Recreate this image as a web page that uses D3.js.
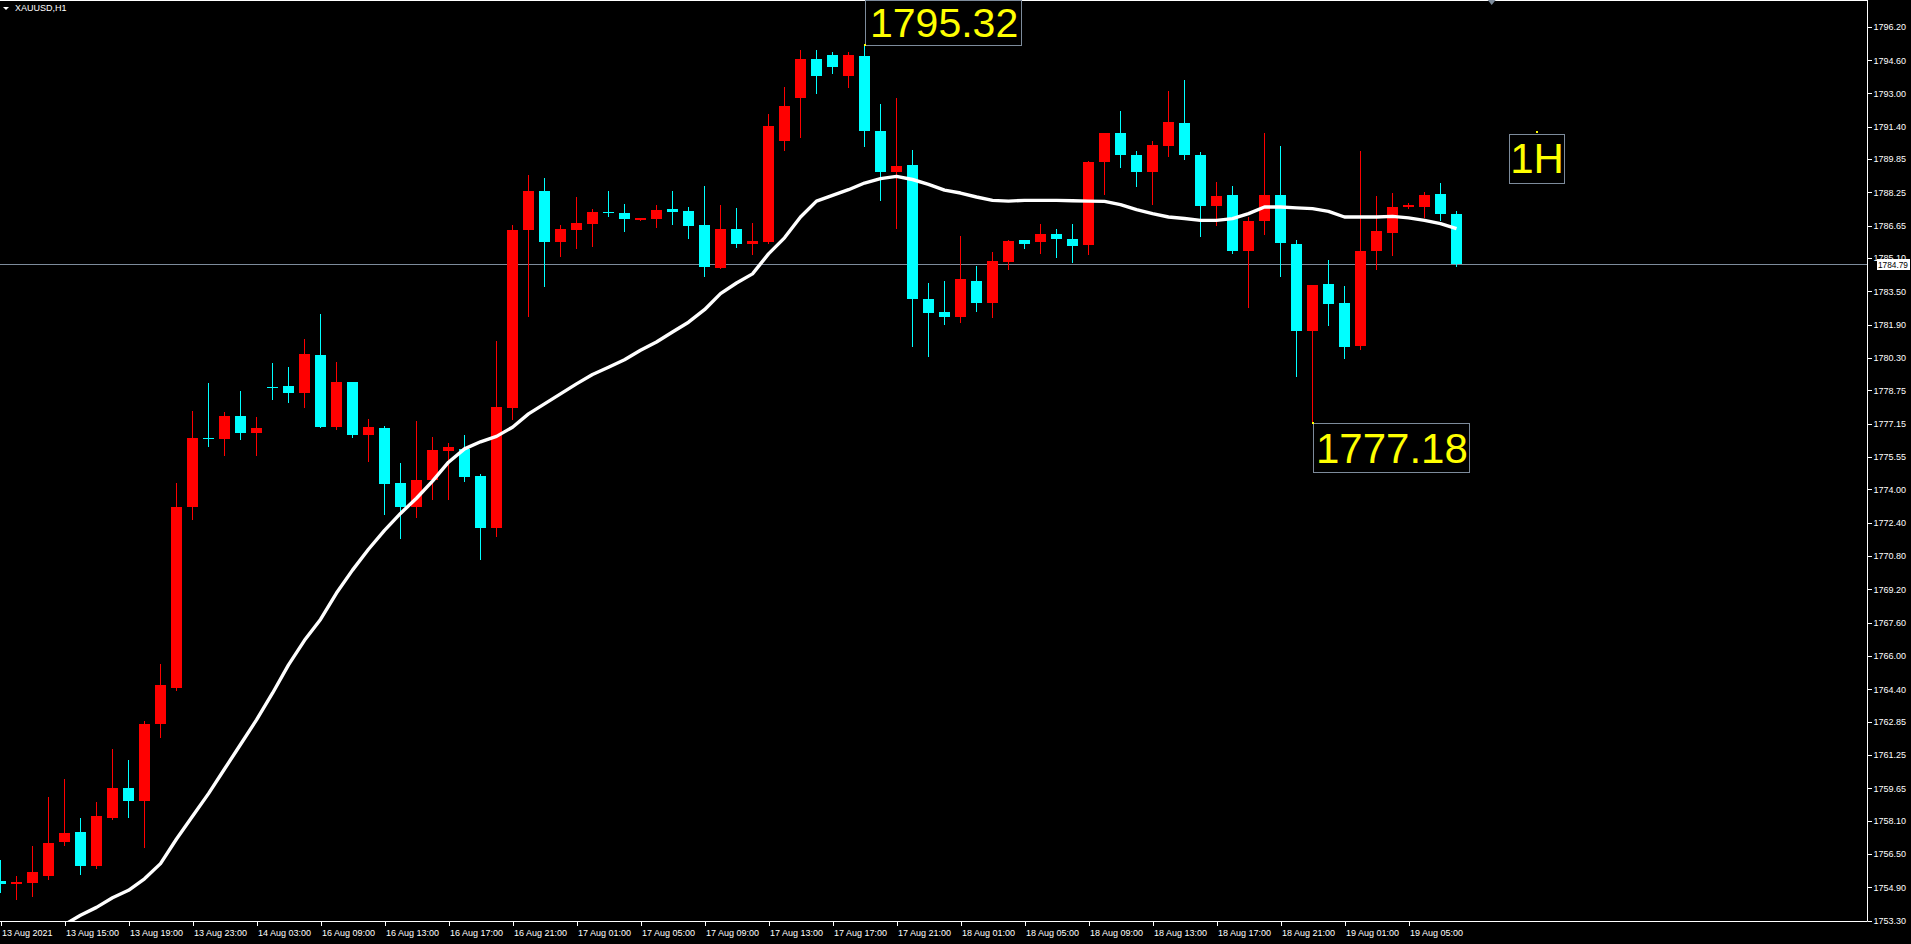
<!DOCTYPE html>
<html><head><meta charset="utf-8">
<script src="https://cdn.jsdelivr.net/npm/d3@7/dist/d3.min.js"></script>
<style>html,body{margin:0;padding:0;background:#000;overflow:hidden}svg{display:block}</style>
</head><body>
<svg id="chart" width="1911" height="944"></svg>
<script>
// ---------------- DATA ----------------
const symbolTitle = "XAUUSD,H1";
// hourly bars, 13 Aug 11:00 -> 19 Aug 08:00
const open  = [1755.19,1755.04,1755.10,1755.46,1757.06,1757.53,1755.90,1758.24,1759.64,1759.06,
               1762.72,1764.46,1773.15,1776.48,1776.39,1777.50,1776.70,1778.92,1778.94,1778.61,
               1780.44,1776.99,1779.14,1776.61,1776.92,1774.28,1773.15,1774.44,1775.83,1775.94,
               1774.62,1772.13,1777.90,1786.43,1788.30,1785.87,1786.43,1786.71,1787.29,1787.24,
               1786.92,1786.95,1787.43,1787.34,1786.67,1784.62,1786.47,1785.77,1785.87,1790.74,
               1792.79,1794.66,1794.83,1793.84,1794.78,1791.20,1789.23,1789.55,1783.11,1782.49,
               1782.27,1784.02,1782.94,1784.91,1785.96,1785.87,1786.23,1786.00,1785.72,1789.69,
               1791.08,1790.07,1789.23,1790.47,1791.56,1790.07,1787.59,1788.11,1785.43,1786.86,
               1788.11,1785.77,1781.59,1783.83,1782.94,1780.87,1785.43,1786.30,1787.55,1787.55,
               1788.15,1787.19];
const high  = [1756.20,1755.42,1756.88,1759.21,1760.11,1758.21,1758.97,1761.51,1760.99,1762.88,
               1765.59,1774.28,1777.74,1779.08,1777.70,1778.74,1777.45,1780.05,1779.85,1781.20,
               1782.40,1780.12,1779.14,1777.39,1777.06,1775.28,1777.26,1776.52,1776.21,1776.59,
               1774.71,1781.10,1786.67,1789.07,1788.92,1786.67,1788.01,1787.43,1788.30,1787.67,
               1787.00,1787.63,1788.30,1787.53,1788.54,1787.63,1787.48,1786.76,1792.00,1793.30,
               1795.10,1795.10,1795.00,1795.00,1795.32,1792.50,1792.80,1790.31,1783.88,1783.98,
               1786.14,1784.70,1785.37,1785.96,1785.96,1786.73,1786.47,1786.71,1789.74,1791.08,
               1792.15,1790.22,1790.70,1793.10,1793.63,1790.17,1788.73,1788.54,1787.05,1791.08,
               1790.47,1785.96,1783.79,1785.00,1783.75,1790.23,1788.07,1788.22,1787.74,1788.27,
               1788.70,1787.35];
const low   = [1754.66,1754.33,1754.48,1755.30,1756.91,1755.53,1755.80,1758.19,1758.26,1756.82,
               1762.10,1764.35,1772.57,1776.08,1775.66,1776.39,1775.66,1778.34,1778.21,1777.94,
               1776.97,1776.88,1776.50,1775.34,1772.79,1771.66,1772.66,1773.54,1773.54,1774.39,
               1770.65,1771.78,1777.37,1782.31,1783.75,1785.22,1785.58,1785.67,1787.11,1786.38,
               1786.92,1786.57,1786.71,1786.04,1784.22,1784.62,1785.61,1785.29,1785.82,1790.30,
               1790.90,1793.00,1794.00,1793.30,1790.50,1787.87,1786.54,1780.87,1780.39,1781.93,
               1782.02,1782.55,1782.27,1784.57,1785.58,1785.34,1785.15,1784.91,1785.29,1788.17,
               1789.47,1788.55,1787.69,1789.99,1789.85,1786.15,1786.68,1785.34,1782.74,1786.25,
               1784.23,1779.43,1777.18,1781.88,1780.30,1780.73,1784.57,1785.24,1787.50,1787.07,
               1786.91,1784.71];
const close = [1755.04,1755.17,1755.61,1757.04,1757.48,1755.90,1758.30,1759.64,1759.06,1762.72,
               1764.59,1773.17,1776.48,1776.39,1777.50,1776.70,1776.92,1778.88,1778.61,1780.48,
               1776.97,1779.14,1776.61,1776.97,1774.24,1773.15,1774.46,1775.88,1776.03,1774.59,
               1772.13,1777.93,1786.43,1788.30,1785.87,1786.47,1786.76,1787.29,1787.24,1786.95,
               1787.00,1787.39,1787.31,1786.62,1784.67,1786.47,1785.75,1785.91,1791.44,1792.38,
               1794.66,1793.84,1794.25,1794.83,1791.21,1789.23,1789.51,1783.11,1782.46,1782.27,
               1784.07,1782.94,1784.94,1785.91,1785.77,1786.23,1786.01,1785.67,1789.69,1791.08,
               1790.04,1789.23,1790.51,1791.61,1790.04,1787.59,1788.06,1785.43,1786.86,1788.11,
               1785.82,1781.59,1783.79,1782.89,1780.82,1785.43,1786.39,1787.55,1787.63,1788.11,
               1787.21,1784.79];
// moving average (white line), one value per bar
const maValues = [1751.80,1752.10,1752.40,1752.70,1753.10,1753.55,1753.93,1754.39,1754.75,1755.30,
               1756.03,1757.21,1758.30,1759.39,1760.57,1761.75,1762.93,1764.21,1765.57,1766.75,
               1767.75,1769.02,1770.12,1771.12,1772.03,1772.84,1773.57,1774.39,1775.30,1775.94,
               1776.28,1776.54,1776.98,1777.62,1778.10,1778.58,1779.06,1779.51,1779.86,1780.22,
               1780.67,1781.07,1781.55,1782.02,1782.62,1783.39,1783.90,1784.34,1785.30,1786.07,
               1787.07,1787.83,1788.11,1788.38,1788.70,1788.91,1789.02,1788.87,1788.64,1788.36,
               1788.22,1788.03,1787.87,1787.83,1787.87,1787.87,1787.87,1787.85,1787.83,1787.82,
               1787.66,1787.42,1787.23,1787.07,1787.00,1786.91,1786.91,1786.99,1787.23,1787.55,
               1787.55,1787.51,1787.47,1787.34,1787.07,1787.07,1787.07,1787.10,1787.03,1786.91,
               1786.75,1786.51];
// x-axis labels, one every 4 bars
const tickLabels = ["13 Aug 2021","13 Aug 15:00","13 Aug 19:00","13 Aug 23:00","14 Aug 03:00",
  "16 Aug 09:00","16 Aug 13:00","16 Aug 17:00","16 Aug 21:00","17 Aug 01:00","17 Aug 05:00",
  "17 Aug 09:00","17 Aug 13:00","17 Aug 17:00","17 Aug 21:00","18 Aug 01:00","18 Aug 05:00",
  "18 Aug 09:00","18 Aug 13:00","18 Aug 17:00","18 Aug 21:00","19 Aug 01:00","19 Aug 05:00"];
const yTicks = [1753.30,1754.90,1756.50,1758.10,1759.65,1761.25,1762.85,1764.40,1766.00,1767.60,
  1769.20,1770.80,1772.40,1774.00,1775.55,1777.15,1778.75,1780.30,1781.90,1783.50,1785.10,
  1786.65,1788.25,1789.85,1791.40,1793.00,1794.60,1796.20];
const lastPrice = 1784.79;
const highMark = {bar: 54, price: 1795.32, text: "1795.32"};
const lowMark  = {bar: 82, price: 1777.18, text: "1777.18"};
const tfMark   = {bar: 96, price: 1791.17, text: "1H"};
const shiftMarkBar = 93.2;

// ---------------- LAYOUT ----------------
const W = 1911, H = 944;
const plotRight = 1867, plotBottom = 921;
const bullColor = "#ff0000", bearColor = "#00ffff";
const svg = d3.select("#chart");
svg.append("rect").attr("width", W).attr("height", H).attr("fill", "#000");

const x = d3.scaleLinear().domain([0, 91]).range([0.5, 1456.5]);
const y = d3.scaleLinear().domain([1753.30, 1796.20]).range([920.5, 26.8]);

svg.append("clipPath").attr("id", "plotClip")
  .append("rect").attr("x", 0).attr("y", 0).attr("width", plotRight).attr("height", plotBottom);

const plot = svg.append("g").attr("clip-path", "url(#plotClip)");

// last price line
plot.append("line")
  .attr("x1", 0).attr("x2", plotRight)
  .attr("y1", Math.round(y(lastPrice)) + 0.5).attr("y2", Math.round(y(lastPrice)) + 0.5)
  .attr("stroke", "#7d8b9b").attr("stroke-width", 1);

// candles
const bars = d3.range(open.length).map(i => ({i, o: open[i], h: high[i], l: low[i], c: close[i]}));
const cg = plot.append("g").attr("shape-rendering", "crispEdges");
const candle = cg.selectAll("g.c").data(bars).join("g").attr("class", "c");
candle.append("line")
  .attr("x1", d => Math.floor(x(d.i)) + 0.5).attr("x2", d => Math.floor(x(d.i)) + 0.5)
  .attr("y1", d => Math.round(y(d.h))).attr("y2", d => Math.round(y(d.l)) + 1)
  .attr("stroke", d => d.c >= d.o ? bullColor : bearColor).attr("stroke-width", 1);
candle.append("rect")
  .attr("x", d => Math.floor(x(d.i)) - 5).attr("width", 11)
  .attr("y", d => Math.round(y(Math.max(d.o, d.c))))
  .attr("height", d => Math.max(1, Math.round(y(Math.min(d.o, d.c))) - Math.round(y(Math.max(d.o, d.c)))))
  .attr("fill", d => d.c >= d.o ? bullColor : bearColor);

// moving average
const maLine = d3.line().x((d, i) => x(i)).y(d => y(d));
plot.append("path").datum(maValues).attr("d", maLine)
  .attr("fill", "none").attr("stroke", "#fff").attr("stroke-width", 3.4)
  .attr("stroke-linejoin", "round");

// chart frame
svg.append("line").attr("x1", 0).attr("x2", plotRight + 0.5).attr("y1", plotBottom + 0.5).attr("y2", plotBottom + 0.5)
  .attr("stroke", "#fff").attr("stroke-width", 1);
svg.append("line").attr("x1", plotRight + 0.5).attr("x2", plotRight + 0.5).attr("y1", 0).attr("y2", plotBottom + 0.5)
  .attr("stroke", "#fff").attr("stroke-width", 1);
svg.append("line").attr("x1", 0).attr("x2", plotRight + 0.5).attr("y1", 0.5).attr("y2", 0.5)
  .attr("stroke", "#fff").attr("stroke-width", 1);

const axisFont = "'Liberation Sans', Arial, sans-serif";

// y axis
const yAxis = d3.axisRight(y).tickValues(yTicks).tickSize(4).tickPadding(2).tickFormat(d3.format(".2f"));
const ya = svg.append("g").attr("transform", `translate(${plotRight + 0.5},0)`).call(yAxis);
ya.select(".domain").remove();
ya.selectAll(".tick line").attr("stroke", "#fff").attr("shape-rendering", "crispEdges");
ya.selectAll(".tick text").attr("fill", "#fff").attr("font-family", axisFont).attr("font-size", 9);

// x axis
const xTickIdx = tickLabels.map((_, k) => k * 4);
const xAxis = d3.axisBottom(x).tickValues(xTickIdx).tickSize(4).tickFormat((d, k) => tickLabels[k]);
const xa = svg.append("g").attr("transform", `translate(0,${plotBottom + 0.5})`).call(xAxis);
xa.select(".domain").remove();
xa.selectAll(".tick line").attr("stroke", "#fff").attr("shape-rendering", "crispEdges");
xa.selectAll(".tick text").attr("fill", "#fff").attr("font-family", axisFont).attr("font-size", 9)
  .attr("text-anchor", "start").attr("x", 1).attr("y", 8).attr("dy", "0.71em");

// last price tag
const py = Math.round(y(lastPrice));
svg.append("rect").attr("x", 1877).attr("y", py - 5).attr("width", 33).attr("height", 11).attr("fill", "#fff");
svg.append("text").attr("x", 1878).attr("y", py + 4).text(lastPrice.toFixed(2))
  .attr("textLength", 30).attr("lengthAdjust", "spacingAndGlyphs")
  .attr("fill", "#000").attr("font-family", axisFont).attr("font-size", 9);

// title
svg.append("path").attr("d", "M3,7 L9,7 L6,10 Z").attr("fill", "#fff");
svg.append("text").attr("x", 15).attr("y", 11).text(symbolTitle)
  .attr("fill", "#fff").attr("font-family", axisFont).attr("font-size", 9);

// chart shift marker
const sx = x(shiftMarkBar);
svg.append("path").attr("d", `M${sx - 4},0 L${sx + 4},0 L${sx},5 Z`).attr("fill", "#7d8b9b");

// annotations
const labelFont = "'Liberation Sans', Arial, sans-serif";
const boxColor = "#7d8b9b";
function dot(px, pyy) {
  svg.append("rect").attr("x", Math.round(px) - 1).attr("y", Math.round(pyy) - 1).attr("width", 2).attr("height", 2).attr("fill", "#ffff00");
}
// high
{
  const hx = x(highMark.bar), hy = y(highMark.price);
  svg.append("rect").attr("x", Math.round(hx) + 0.5).attr("y", Math.round(hy) - 45 + 0.5).attr("width", 156).attr("height", 45)
    .attr("fill", "none").attr("stroke", boxColor).attr("stroke-width", 1);
  svg.append("text").attr("x", Math.round(hx) + 5).attr("y", Math.round(hy) - 8).text(highMark.text)
    .attr("fill", "#ffff00").attr("font-family", labelFont).attr("font-size", 41);
  dot(hx, hy);
}
// low
{
  const lx = x(lowMark.bar), ly = y(lowMark.price);
  svg.append("rect").attr("x", Math.round(lx) + 0.5).attr("y", Math.round(ly) + 0.5).attr("width", 156).attr("height", 49)
    .attr("fill", "none").attr("stroke", boxColor).attr("stroke-width", 1);
  svg.append("text").attr("x", Math.round(lx) + 3).attr("y", Math.round(ly) + 40).text(lowMark.text)
    .attr("fill", "#ffff00").attr("font-family", labelFont).attr("font-size", 42);
  dot(lx, ly);
}
// timeframe
{
  const tx = x(tfMark.bar), ty = y(tfMark.price);
  svg.append("rect").attr("x", Math.round(tx) - 28 + 0.5).attr("y", Math.round(ty) + 2 + 0.5).attr("width", 55).attr("height", 49)
    .attr("fill", "none").attr("stroke", boxColor).attr("stroke-width", 1);
  svg.append("text").attr("x", Math.round(tx)).attr("y", Math.round(ty) + 41).attr("text-anchor", "middle").text(tfMark.text)
    .attr("fill", "#ffff00").attr("font-family", labelFont).attr("font-size", 42);
  dot(tx, ty);
}
</script>
</body></html>
